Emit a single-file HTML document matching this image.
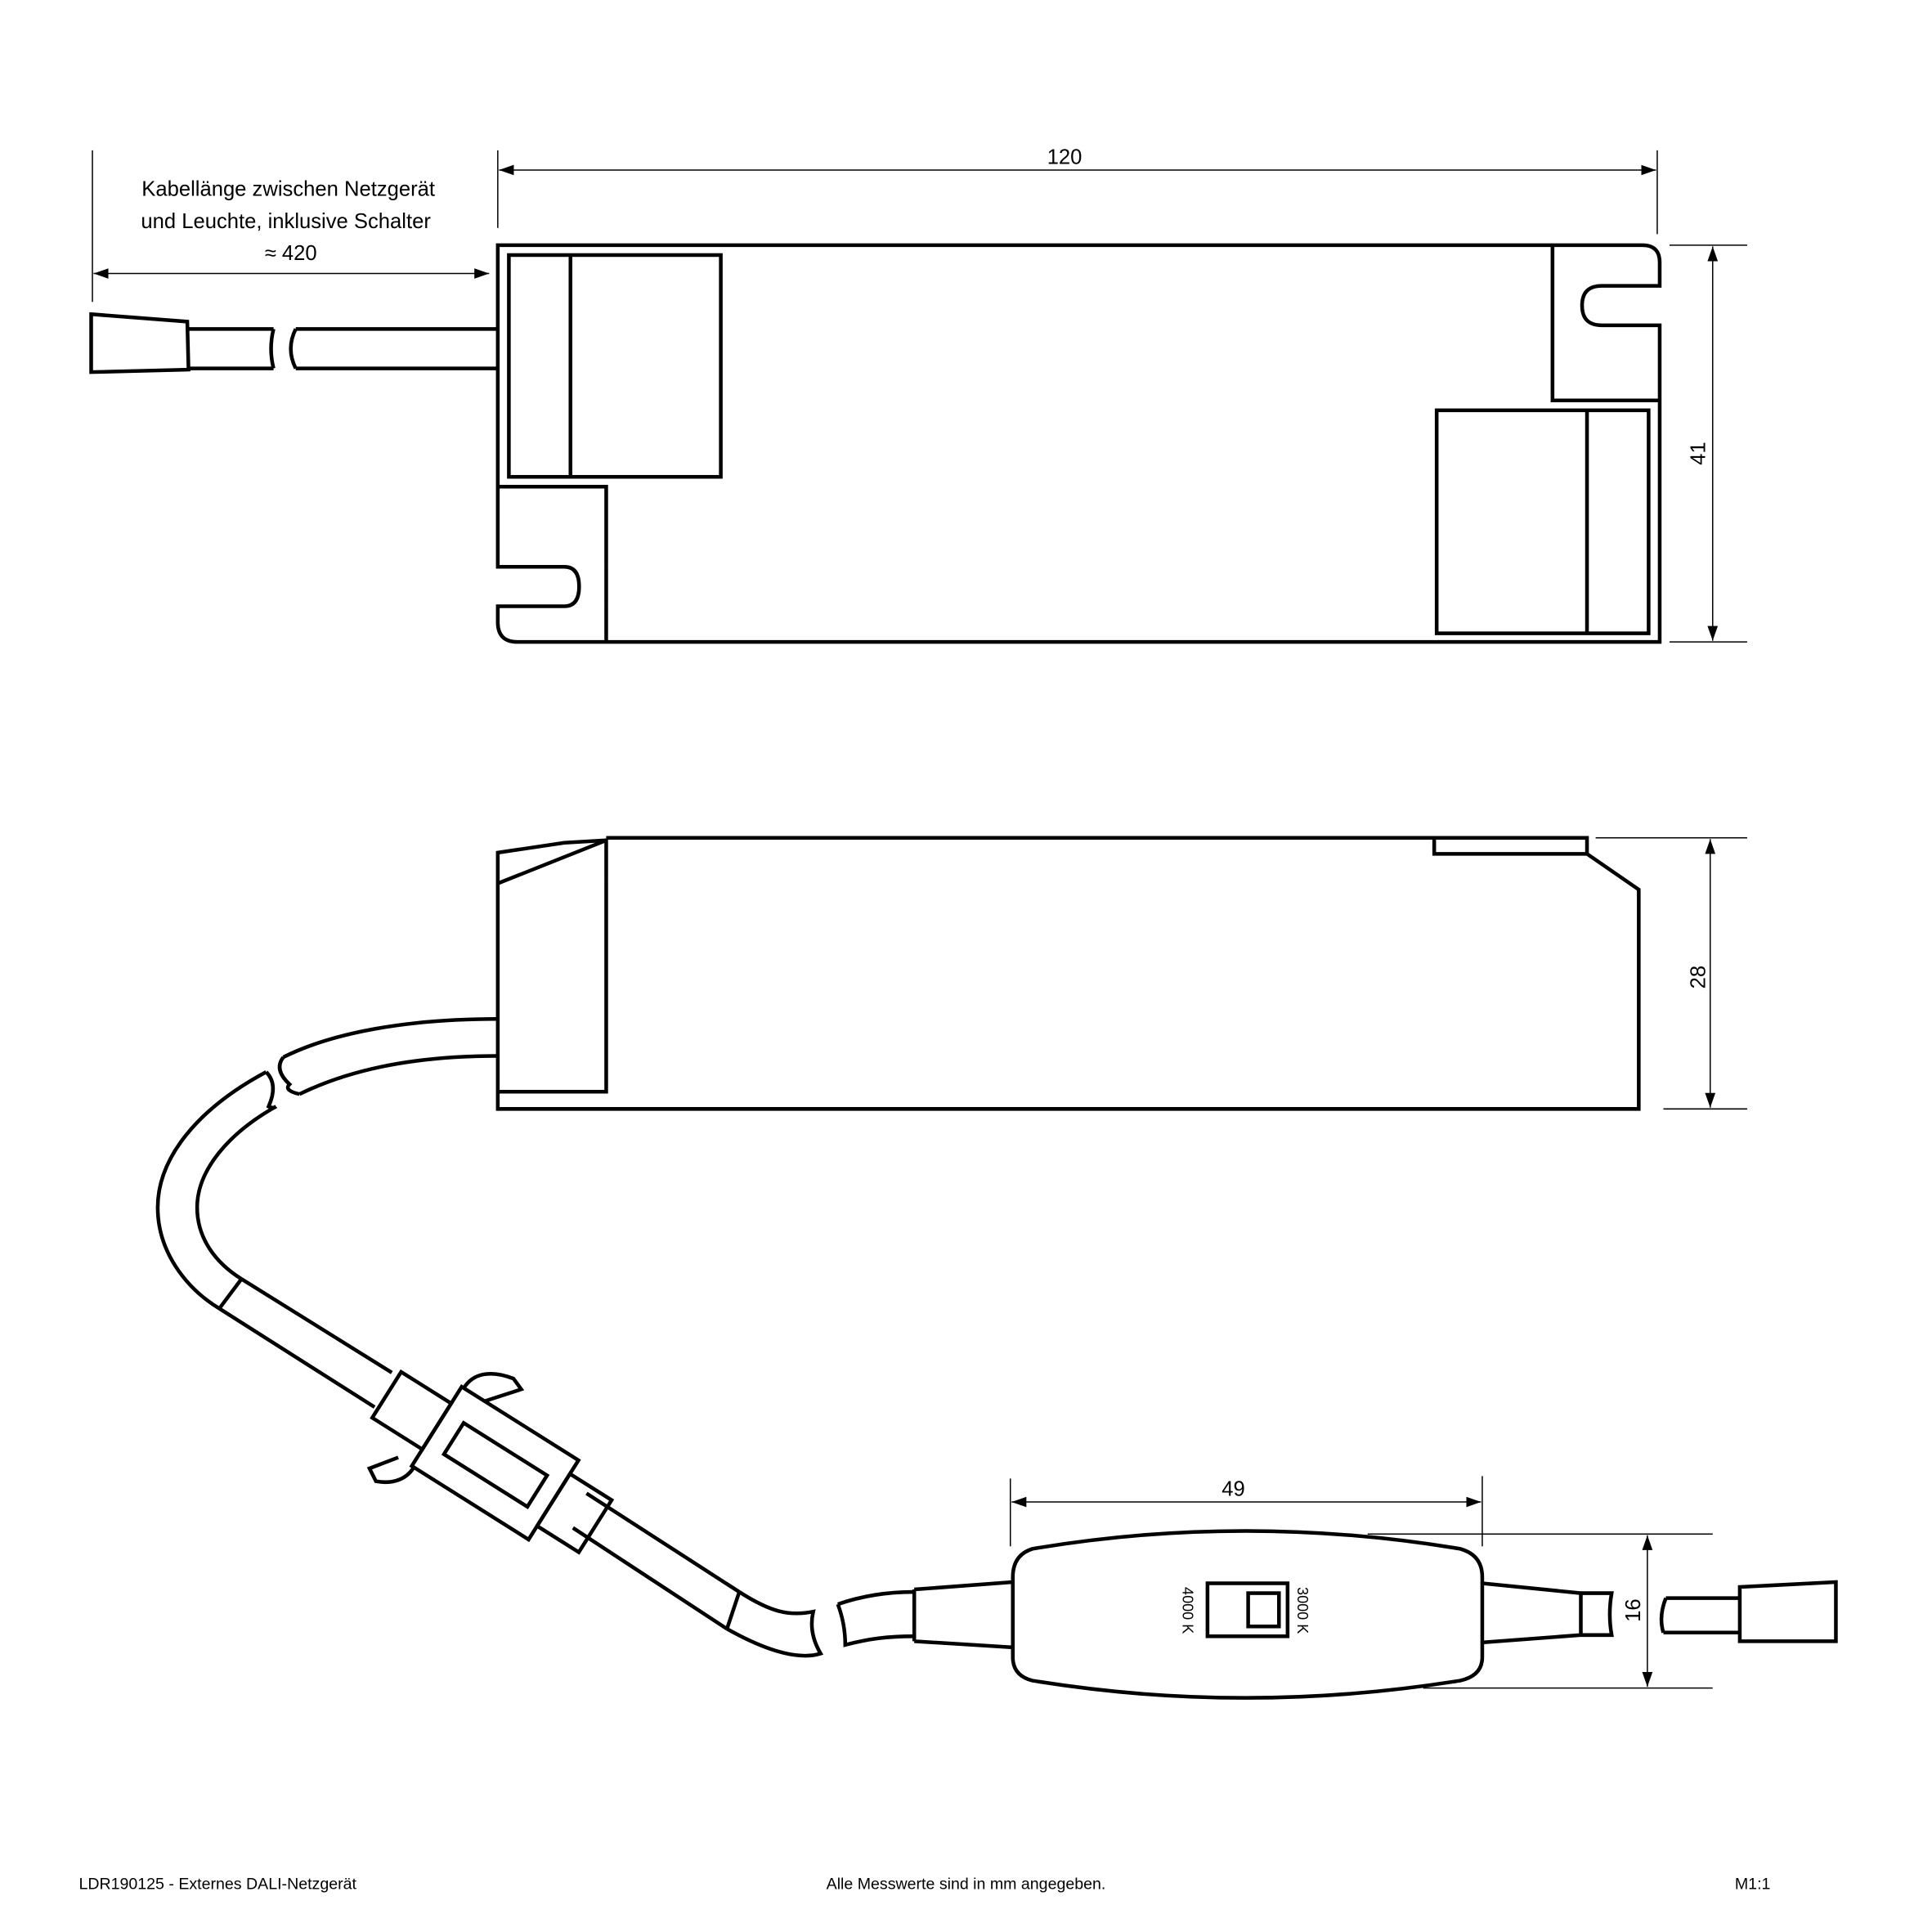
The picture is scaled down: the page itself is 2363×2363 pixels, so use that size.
<!DOCTYPE html>
<html><head><meta charset="utf-8"><style>html,body{margin:0;padding:0;background:#fff}svg{display:block}</style></head>
<body>
<svg width="2363" height="2363" viewBox="0 0 1568 1568" xmlns="http://www.w3.org/2000/svg" font-family="Liberation Sans, sans-serif">
<defs>
<marker id="a" viewBox="0 0 10 10" refX="10" refY="5" markerWidth="12" markerHeight="12" markerUnits="userSpaceOnUse" orient="auto-start-reverse"><path d="M0,1.5 L10,5 L0,8.5z" fill="#000"/></marker>
</defs>
<g fill="none" stroke="#000" stroke-width="1">
<!-- dimension lines -->
<line x1="404" y1="122" x2="404" y2="185"/><line x1="1345" y1="122" x2="1345" y2="190"/>
<line x1="405" y1="138" x2="1344" y2="138" marker-start="url(#a)" marker-end="url(#a)"/>
<line x1="75" y1="122" x2="75" y2="245"/>
<line x1="76" y1="222" x2="397" y2="222" marker-start="url(#a)" marker-end="url(#a)"/>
<line x1="1355" y1="199" x2="1418" y2="199"/><line x1="1355" y1="521" x2="1418" y2="521"/>
<line x1="1390" y1="200" x2="1390" y2="520" marker-start="url(#a)" marker-end="url(#a)"/>
<line x1="1295" y1="680" x2="1418" y2="680"/><line x1="1350" y1="900" x2="1418" y2="900"/>
<line x1="1388" y1="681" x2="1388" y2="899" marker-start="url(#a)" marker-end="url(#a)"/>
<line x1="820" y1="1200" x2="820" y2="1255"/><line x1="1203" y1="1198" x2="1203" y2="1255"/>
<line x1="821" y1="1219" x2="1202" y2="1219" marker-start="url(#a)" marker-end="url(#a)"/>
<line x1="1110" y1="1245" x2="1390" y2="1245"/><line x1="1155" y1="1370" x2="1390" y2="1370"/>
<line x1="1337" y1="1246" x2="1337" y2="1369" marker-start="url(#a)" marker-end="url(#a)"/>
</g>
<g fill="none" stroke="#000" stroke-width="3" stroke-linejoin="miter">
<!-- top view -->
<path d="M404,395 V199 H1333 Q1347,199 1347,213 V232 H1300 Q1284,232 1284,248 Q1284,264 1300,264 H1347 V521 H420 Q404,521 404,505 V492 H458 Q470,492 470,476 Q470,460 458,460 H404 V395 H492 V521"/>
<path d="M1260,199 V325 H1347"/>
<rect x="413" y="207" width="172" height="180"/><line x1="463" y1="207" x2="463" y2="387"/>
<rect x="1166" y="333" width="172" height="181"/><line x1="1288" y1="333" x2="1288" y2="514"/>
<path d="M153,267 H222 M153,299 H222 M240,267 H404 M240,299 H404"/>
<path d="M222,267 Q218,283 222,299 M240,267 Q232,283 240,299"/>
<path d="M74,255 L152,261 L153,300 L74,302 Z"/>
<!-- side view -->
<path d="M492,680 H1288 V693 L1330,722 V900 H404 V692 L458,684 L492,682"/>
<path d="M1164,680 V693 H1288"/>
<path d="M404,717 L492,682 V886 H404"/>
<!-- curved cable -->
<path d="M404,827 C330,827 270,838 230,858"/>
<path d="M404,857 C330,857 280,870 243,888"/>
<path d="M230,858 Q222,868 235,880 Q230,885 243,888"/>
<path d="M216,870 Q226,880 218,898 Q222,900 224,898"/>
<path d="M216,870 C160,900 128,940 128,980 C128,1015 150,1045 178,1062"/>
<path d="M224,898 C185,920 160,950 160,980 C160,1005 175,1025 196,1038"/>
<line x1="196" y1="1038" x2="178" y2="1062"/>
<path d="M196,1038 L318,1114 M178,1062 L304,1142"/>
<path d="M476,1212 L600,1292 M465,1240 L590,1322"/>
<line x1="600" y1="1292" x2="590" y2="1322"/>
<path d="M600,1292 C625,1308 640,1312 660,1308 Q656,1325 666,1342 Q640,1350 590,1322"/>
<path d="M680,1302 Q686,1318 686,1335 C705,1330 720,1328 742,1328 M680,1302 C700,1295 720,1292 742,1292"/>
<!-- connector -->
<g transform="translate(390,1180) rotate(32.2)">
<rect x="-90" y="-22" width="48" height="44"/>
<rect x="-42" y="-38" width="112" height="76"/>
<rect x="-25" y="-14" width="80" height="30"/>
<rect x="70" y="-25" width="40" height="50"/>
<path d="M-40,-38 C-40,-52 -30,-62 -10,-66 L0,-62 L-20,-38"/>
<path d="M-40,38 C-40,52 -50,60 -60,64 L-70,58 L-55,38"/>
</g>
<!-- switch -->
<path d="M742,1290 L822,1284 M742,1332 L822,1337 M742,1290 V1332"/>
<path d="M838,1257 Q1010,1228 1185,1257 Q1203,1262 1203,1280 V1345 Q1203,1360 1185,1364 Q1010,1392 838,1364 Q822,1360 822,1345 V1280 Q822,1262 838,1257 Z"/>
<rect x="980" y="1285" width="65" height="43"/><rect x="1013" y="1293" width="25" height="27"/>
<path d="M1203,1285 L1283,1293 V1327 L1203,1333"/>
<path d="M1283,1293 H1308 Q1305,1310 1308,1327 H1283"/>
<path d="M1352,1297 Q1346,1312 1350,1325 M1352,1297 H1412 M1350,1325 H1412"/>
<path d="M1412,1288 L1490,1284 V1332 H1412 Z"/>
</g>
<g font-size="17" fill="#000" text-anchor="middle">
<text x="864" y="133">120</text>
<text x="234" y="159">Kabellänge zwischen Netzgerät</text>
<text x="232" y="185">und Leuchte, inklusive Schalter</text>
<text x="236" y="211">≈ 420</text>
<text x="1001" y="1214">49</text>
<text transform="translate(1384,368) rotate(-90)">41</text>
<text transform="translate(1384,793) rotate(-90)">28</text>
<text transform="translate(1331,1307) rotate(-90)">16</text>
<text font-size="12" transform="translate(1053,1307) rotate(90)">3000 K</text>
<text font-size="12" transform="translate(960,1307) rotate(90)">4000 K</text>
</g>
<g font-size="13" fill="#000">
<text x="64" y="1533">LDR190125 - Externes DALI-Netzgerät</text>
<text x="784" y="1533" text-anchor="middle">Alle Messwerte sind in mm angegeben.</text>
<text x="1408" y="1533">M1:1</text>
</g>
</svg>
</body></html>
